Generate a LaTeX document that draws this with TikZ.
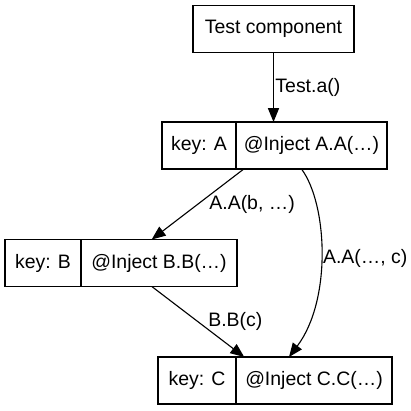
\documentclass[tikz,border=0pt]{standalone}
\usepackage{fontspec}
\setmainfont{Liberation Sans}
\usetikzlibrary{positioning,fit,calc,arrows.meta}
\newcommand{\pxu}{0.72pt}

\begin{document}
\begin{tikzpicture}[
  x=0.72pt,
  y=-0.72pt,
  font=\fontsize{14}{17}\selectfont
]

  \path[use as bounding box] (0,0) rectangle (411,411);

  \tikzstyle{compnode}=[draw,rectangle,line width=0.8pt,minimum height=47*\pxu,minimum width=161*\pxu,inner sep=1mm,outer sep=0pt]
  \tikzstyle{keynode}=[draw,rectangle,line width=0.8pt,minimum height=47*\pxu,minimum width=76*\pxu,inner sep=1mm,outer sep=0pt]
  \tikzstyle{injnode}=[draw,rectangle,line width=0.8pt,minimum height=47*\pxu,minimum width=156*\pxu,inner sep=1mm,outer sep=0pt]
  \tikzstyle{recnode}=[inner sep=0pt,outer sep=0pt]

  \tikzstyle{pointer}=[draw,->,>={Triangle[length=10pt,width=8pt]},line width=0.8pt]
  \tikzstyle{ptrlab}=[anchor=west,inner sep=1pt]

  % nodes
  \node[compnode] (test) at (273.5,29) {Test component};

  \node[keynode,minimum width=74*\pxu] (keyA) at (199,145.5) {key: A};
  \node[injnode,minimum width=151*\pxu] (injA) [right=0pt of keyA] {@Inject A.A(…)};
  \node[recnode,fit=(keyA)(injA)] (recA) {};

  \node[keynode] (keyB) at (43,263) {key: B};
  \node[injnode] (injB) [right=0pt of keyB] {@Inject B.B(…)};
  \node[recnode,fit=(keyB)(injB)] (recB) {};

  \node[keynode,minimum width=78*\pxu] (keyC) at (197,380.5) {key: C};
  \node[injnode] (injC) [right=0pt of keyC] {@Inject C.C(…)};
  \node[recnode,fit=(keyC)(injC)] (recC) {};

  % pointers
  \draw[pointer] (test.south) -- node[ptrlab] {Test.a()} (test.south |- recA.north);
  \draw[pointer] (recA) edge node[ptrlab,xshift=7pt] {A.A(b, …)} (recB);
  \draw[pointer] (recB) edge node[ptrlab,xshift=6pt] {B.B(c)} (recC);
  \draw[pointer] ($(recA.south)+(27,0)$) .. controls +(26,35) and +(43,-57) .. ($(recC.north)+(14,0)$)
    node[ptrlab,pos=0.5,yshift=-3pt] {A.A(…, c)};

\end{tikzpicture}
\end{document}
